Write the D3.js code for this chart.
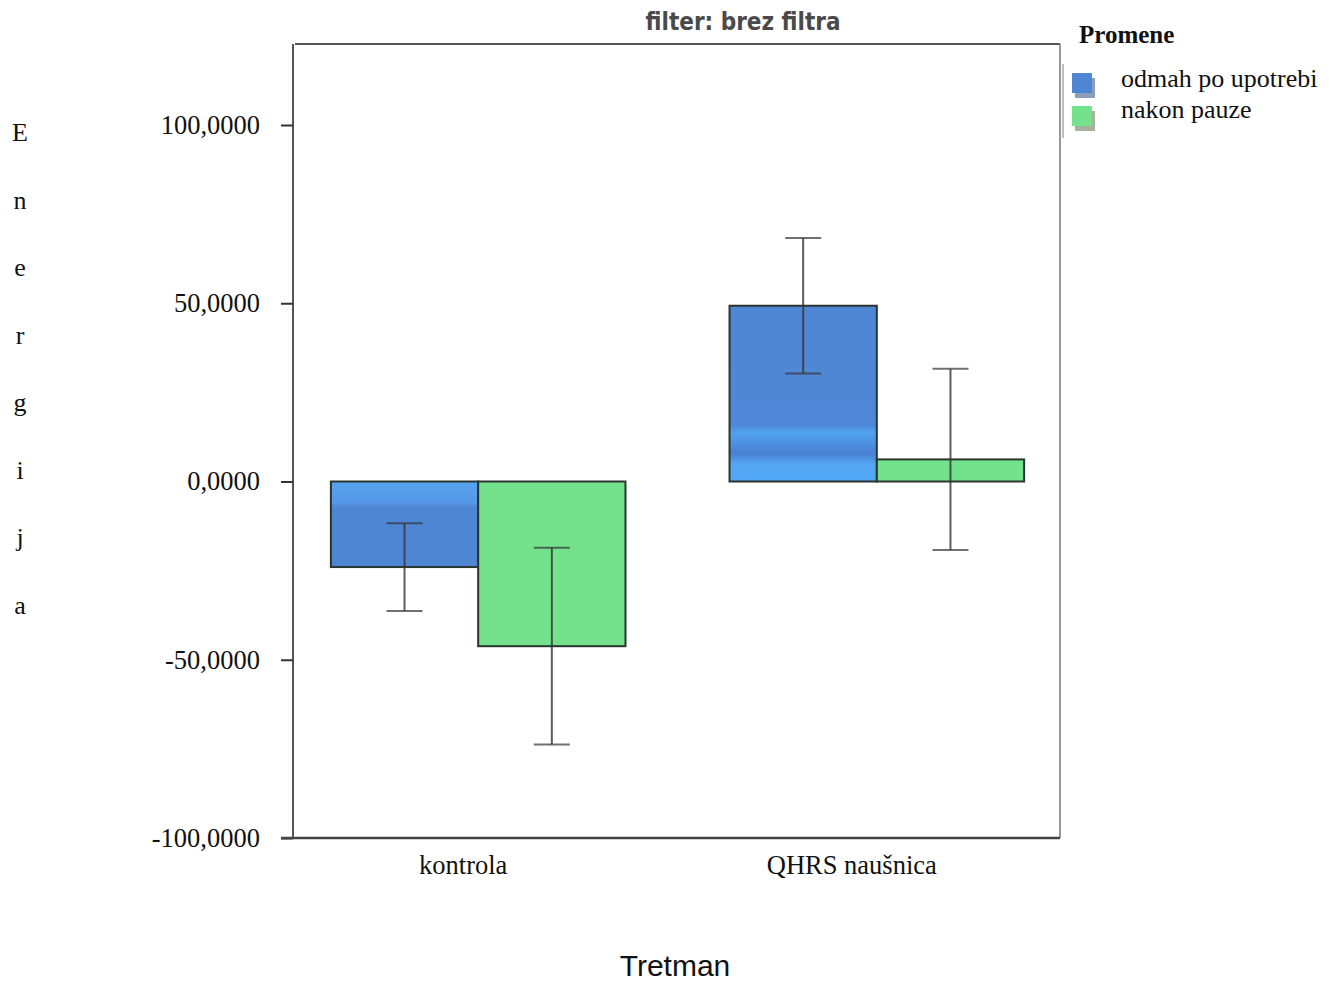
<!DOCTYPE html>
<html>
<head>
<meta charset="utf-8">
<script src="https://cdn.jsdelivr.net/npm/d3@7"></script>
<style>
  html, body { margin: 0; padding: 0; background: #fff; }
  svg { display: block; }
</style>
</head>
<body>
<svg id="chart" width="1340" height="982"></svg>
<script>
const categories = ["kontrola", "QHRS naušnica"];
const series = ["odmah po upotrebi", "nakon pauze"];
const meanOdmah = [-24, 49.3];
const meanPauza = [-46.2, 6.2];
const errOdmah = [12.3, 19.0];
const errPauza = [27.6, 25.4];
const yTicks = [-100, -50, 0, 50, 100];
const yTickLabels = ["-100,0000", "-50,0000", "0,0000", "50,0000", "100,0000"];
const colors = ["#4f86d3", "#74e28c"];
const shadowColors = ["#8d9fb8", "#a6b29c"];

const SERIF = "Liberation Serif, Times New Roman, serif";
const svg = d3.select("#chart");
const frame = { left: 295, right: 1060, top: 44, bottom: 838 };

const y = d3.scaleLinear().domain([-100, 100]).range([838, 125]);
const x0 = d3.scaleBand().domain(categories).range([frame.left, frame.right])
  .paddingInner(0.261).paddingOuter(0.09);
const x1 = d3.scaleBand().domain(series).range([0, x0.bandwidth()]);

const data = [];
categories.forEach((c, i) => {
  data.push({ cat: c, ser: series[0], v: meanOdmah[i], e: errOdmah[i], col: colors[0] });
  data.push({ cat: c, ser: series[1], v: meanPauza[i], e: errPauza[i], col: colors[1] });
});

// frame
svg.append("line").attr("x1", frame.left).attr("x2", frame.right).attr("y1", frame.top).attr("y2", frame.top)
  .attr("stroke", "#555").attr("stroke-width", 2);
svg.append("line").attr("x1", frame.right).attr("x2", frame.right).attr("y1", frame.top).attr("y2", frame.bottom)
  .attr("stroke", "#777").attr("stroke-width", 1.5);
svg.append("line").attr("x1", frame.left - 2).attr("x2", frame.left - 2).attr("y1", frame.top).attr("y2", frame.bottom)
  .attr("stroke", "#555").attr("stroke-width", 2);

// y axis ticks
const yAxis = d3.axisLeft(y).tickValues(yTicks).tickFormat((d, i) => yTickLabels[i]).tickSize(12).tickPadding(21);
const gy = svg.append("g").attr("transform", `translate(${frame.left - 2},0)`).call(yAxis);
gy.select(".domain").remove();
gy.selectAll(".tick line").attr("stroke", "#333").attr("stroke-width", 2);
gy.selectAll(".tick text").attr("font-family", SERIF)
  .attr("font-size", 26.5).attr("fill", "#111");

// bottom axis line
svg.append("line").attr("x1", frame.left - 14).attr("x2", frame.right).attr("y1", y(-100)).attr("y2", y(-100))
  .attr("stroke", "#444").attr("stroke-width", 2.5);

// x labels
svg.append("g").selectAll("text").data(categories).join("text")
  .attr("x", (d, i) => x0(d) + x0.bandwidth() / 2 - (i === 0 ? 15 : 25))
  .attr("y", y(-100) + 36)
  .attr("text-anchor", "middle")
  .attr("font-family", SERIF)
  .attr("font-size", 26.5).attr("fill", "#111")
  .text(d => d);

// gradient defs for scanned look on blue
const defs = svg.append("defs");
const g1 = defs.append("linearGradient").attr("id", "blueK").attr("x1", 0).attr("x2", 0).attr("y1", 0).attr("y2", 1);
g1.append("stop").attr("offset", "0%").attr("stop-color", "#58a6f0");
g1.append("stop").attr("offset", "25%").attr("stop-color", "#5496e6");
g1.append("stop").attr("offset", "30%").attr("stop-color", "#4f86d3");
g1.append("stop").attr("offset", "100%").attr("stop-color", "#4f86d3");
const g2 = defs.append("linearGradient").attr("id", "blueQ").attr("x1", 0).attr("x2", 0).attr("y1", 0).attr("y2", 1);
g2.append("stop").attr("offset", "0%").attr("stop-color", "#4f86d3");
g2.append("stop").attr("offset", "68%").attr("stop-color", "#4f88d6");
g2.append("stop").attr("offset", "72%").attr("stop-color", "#50a2ee");
g2.append("stop").attr("offset", "78%").attr("stop-color", "#4d92e2");
g2.append("stop").attr("offset", "84%").attr("stop-color", "#4a80d2");
g2.append("stop").attr("offset", "90%").attr("stop-color", "#52a6f2");
g2.append("stop").attr("offset", "100%").attr("stop-color", "#52a8f4");

// bars
svg.append("g").selectAll("rect").data(data).join("rect")
  .attr("x", d => x0(d.cat) + x1(d.ser))
  .attr("width", x1.bandwidth())
  .attr("y", d => y(Math.max(0, d.v)))
  .attr("height", d => Math.abs(y(d.v) - y(0)))
  .attr("fill", d => d.ser === series[0] ? (d.cat === categories[0] ? "url(#blueK)" : "url(#blueQ)") : d.col)
  .attr("stroke", "#2b3530").attr("stroke-width", 2);

// error bars
const eg = svg.append("g").attr("stroke", "#333").attr("stroke-width", 2);
data.forEach(d => {
  const cx = x0(d.cat) + x1(d.ser) + x1.bandwidth() / 2;
  const hw = 18;
  eg.append("line").attr("x1", cx).attr("x2", cx).attr("y1", y(d.v + d.e)).attr("y2", y(d.v - d.e)).attr("stroke-opacity", 0.8);
  eg.append("line").attr("x1", cx - hw).attr("x2", cx + hw).attr("y1", y(d.v + d.e)).attr("y2", y(d.v + d.e)).attr("stroke-opacity", 0.7);
  eg.append("line").attr("x1", cx - hw).attr("x2", cx + hw).attr("y1", y(d.v - d.e)).attr("y2", y(d.v - d.e)).attr("stroke-opacity", 0.7);
});

// title
svg.append("text").attr("x", 743).attr("y", 30).attr("text-anchor", "middle")
  .attr("font-family", "DejaVu Sans Condensed, DejaVu Sans, sans-serif").attr("font-weight", "bold")
  .attr("font-size", 24).attr("fill", "#4a4a4a")
  .text("filter: brez filtra");

// legend
svg.append("text").attr("x", 1079).attr("y", 43)
  .attr("font-family", SERIF).attr("font-weight", "bold")
  .attr("font-size", 25).attr("fill", "#111").text("Promene");
svg.append("line").attr("x1", 1063).attr("x2", 1063).attr("y1", 64).attr("y2", 138).attr("stroke", "#aaa").attr("stroke-width", 1.5);
const lg = svg.append("g").selectAll("g").data(series).join("g")
  .attr("transform", (d, i) => `translate(1072, ${73 + i * 33})`);
lg.append("rect").attr("x", 3).attr("y", 5).attr("width", 20).attr("height", 20).attr("fill", (d, i) => shadowColors[i]);
lg.append("rect").attr("x", 0).attr("y", 0).attr("width", 20).attr("height", 20).attr("fill", (d, i) => colors[i]);
lg.append("text").attr("x", 49).attr("y", (d, i) => 14 - i * 2)
  .attr("font-family", SERIF)
  .attr("font-size", 26).attr("fill", "#111").text(d => d);

// y-axis title (stacked letters)
const yTitle = "Energija".split("");
svg.append("g").selectAll("text").data(yTitle).join("text")
  .attr("x", 20).attr("y", (d, i) => 141 + i * 67.5)
  .attr("text-anchor", "middle")
  .attr("font-family", SERIF)
  .attr("font-size", 26).attr("fill", "#111").text(d => d);

// x-axis title
svg.append("text").attr("x", 675).attr("y", 976).attr("text-anchor", "middle")
  .attr("font-family", "Liberation Sans, Arial, sans-serif")
  .attr("font-size", 30).attr("fill", "#111").text("Tretman");
</script>
</body>
</html>
